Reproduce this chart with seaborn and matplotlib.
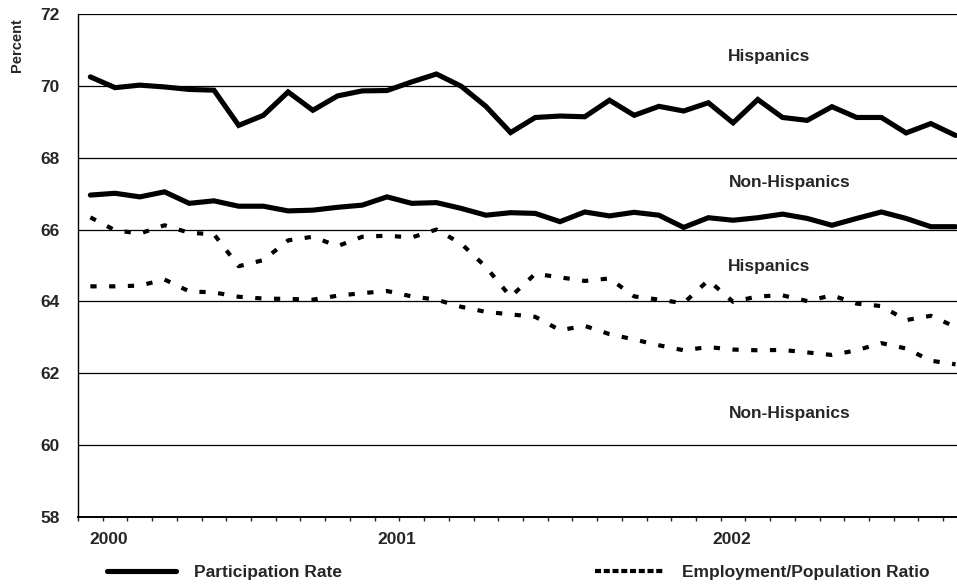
import numpy as np
import pandas as pd
import matplotlib
matplotlib.use('Agg')
import matplotlib.pyplot as plt
from matplotlib.lines import Line2D
import seaborn as sns

# Monthly values, Jan 2000 - Dec 2002
months = np.arange(36)
year_labels = ['2000', '2001', '2002']
year_label_pos = [0.75, 12.4, 25.95]

hisp_participation = [70.25, 69.95, 70.02, 69.97, 69.90, 69.88, 68.90, 69.18, 69.83, 69.32, 69.72, 69.86,
                      69.87, 70.11, 70.33, 69.99, 69.43, 68.70, 69.12, 69.16, 69.14, 69.60, 69.18, 69.43,
                      69.30, 69.53, 68.97, 69.62, 69.12, 69.04, 69.42, 69.12, 69.12, 68.69, 68.95, 68.62]
nonhisp_participation = [66.96, 67.01, 66.91, 67.05, 66.73, 66.80, 66.65, 66.65, 66.52, 66.54, 66.62, 66.68,
                         66.91, 66.73, 66.75, 66.59, 66.40, 66.47, 66.45, 66.22, 66.49, 66.38, 66.48, 66.40,
                         66.06, 66.33, 66.26, 66.33, 66.43, 66.31, 66.12, 66.31, 66.49, 66.31, 66.08, 66.08]
hisp_emp_ratio = [66.34, 65.98, 65.89, 66.12, 65.91, 65.87, 64.98, 65.15, 65.70, 65.80, 65.54, 65.80,
                  65.83, 65.78, 66.00, 65.61, 64.96, 64.13, 64.77, 64.67, 64.57, 64.64, 64.14, 64.05,
                  63.95, 64.59, 63.99, 64.14, 64.17, 64.01, 64.17, 63.94, 63.87, 63.48, 63.60, 63.29]
nonhisp_emp_ratio = [64.42, 64.42, 64.44, 64.61, 64.28, 64.25, 64.13, 64.08, 64.07, 64.05, 64.16, 64.23,
                     64.29, 64.14, 64.05, 63.85, 63.71, 63.64, 63.57, 63.20, 63.32, 63.09, 62.94, 62.78,
                     62.64, 62.73, 62.66, 62.64, 62.65, 62.58, 62.51, 62.64, 62.84, 62.69, 62.35, 62.25]

sns.set_style('white')
plt.rcParams['font.family'] = ['Liberation Sans', 'DejaVu Sans']

fig = plt.figure(figsize=(9.57, 5.84), dpi=100)
ax = fig.add_axes([78 / 957, 67 / 584, (967.9 - 78) / 957, 503 / 584])

solid = dict(color='black', lw=3.7, solid_joinstyle='miter')
dashed = dict(color='black', lw=3.0, linestyle=(0, (1.5, 3)), dash_capstyle='butt')

sns.lineplot(x=months, y=hisp_participation, ax=ax, **solid)
sns.lineplot(x=months, y=nonhisp_participation, ax=ax, **solid)
sns.lineplot(x=months, y=hisp_emp_ratio, ax=ax, **dashed)
sns.lineplot(x=months, y=nonhisp_emp_ratio, ax=ax, **dashed)

ax.set_xlim(-0.5, 35.5)
ax.set_ylim(58, 72)
ax.set_yticks(np.arange(58, 73, 2))
ax.yaxis.grid(True, color='black', lw=0.9)
ax.set_axisbelow(True)
ax.tick_params(axis='y', direction='out', length=4, width=1, pad=9, labelsize=12.5)
for lab in ax.get_yticklabels():
    lab.set_fontweight('bold')

ax.set_xticks(year_label_pos)
ax.set_xticklabels(year_labels, fontweight='bold', fontsize=12.5)
ax.set_xticks(np.arange(-0.5, 36, 1), minor=True)
ax.tick_params(axis='x', which='major', length=0, pad=11)
ax.tick_params(axis='x', which='minor', direction='out', length=3, width=1, bottom=True)

for side in ['top', 'right']:
    ax.spines[side].set_visible(False)
ax.spines['left'].set_color('black')
ax.spines['left'].set_linewidth(1.0)
ax.spines['bottom'].set_color('black')
ax.spines['bottom'].set_linewidth(1.4)
ax.set_xlabel('')
ax.set_ylabel('')

fig.text(16.5 / 957, 1 - 45 / 584, 'Percent', rotation=90, ha='center', va='center',
         fontweight='bold', fontsize=10.5)

label_kw = dict(fontweight='bold', fontsize=12.5, ha='left', va='center')
ax.text(25.78, 70.82, 'Hispanics', **label_kw)
ax.text(25.85, 67.31, 'Non-Hispanics', **label_kw)
ax.text(25.78, 64.97, 'Hispanics', **label_kw)
ax.text(25.85, 60.89, 'Non-Hispanics', **label_kw)

handles = [Line2D([], [], color='black', lw=3.7),
           Line2D([], [], color='black', lw=3.0, linestyle=(0, (1.45, 0.65)))]
fig.legend(handles, ['Participation Rate', 'Employment/Population Ratio'],
           loc='center left', bbox_to_anchor=(107 / 957, 1 - 572 / 584), ncol=2,
           frameon=False, handlelength=4.0, handletextpad=1.0,
           columnspacing=14.6, borderpad=0, borderaxespad=0,
           prop={'weight': 'bold', 'size': 12.5})

fig.savefig('out.png', dpi=100)
